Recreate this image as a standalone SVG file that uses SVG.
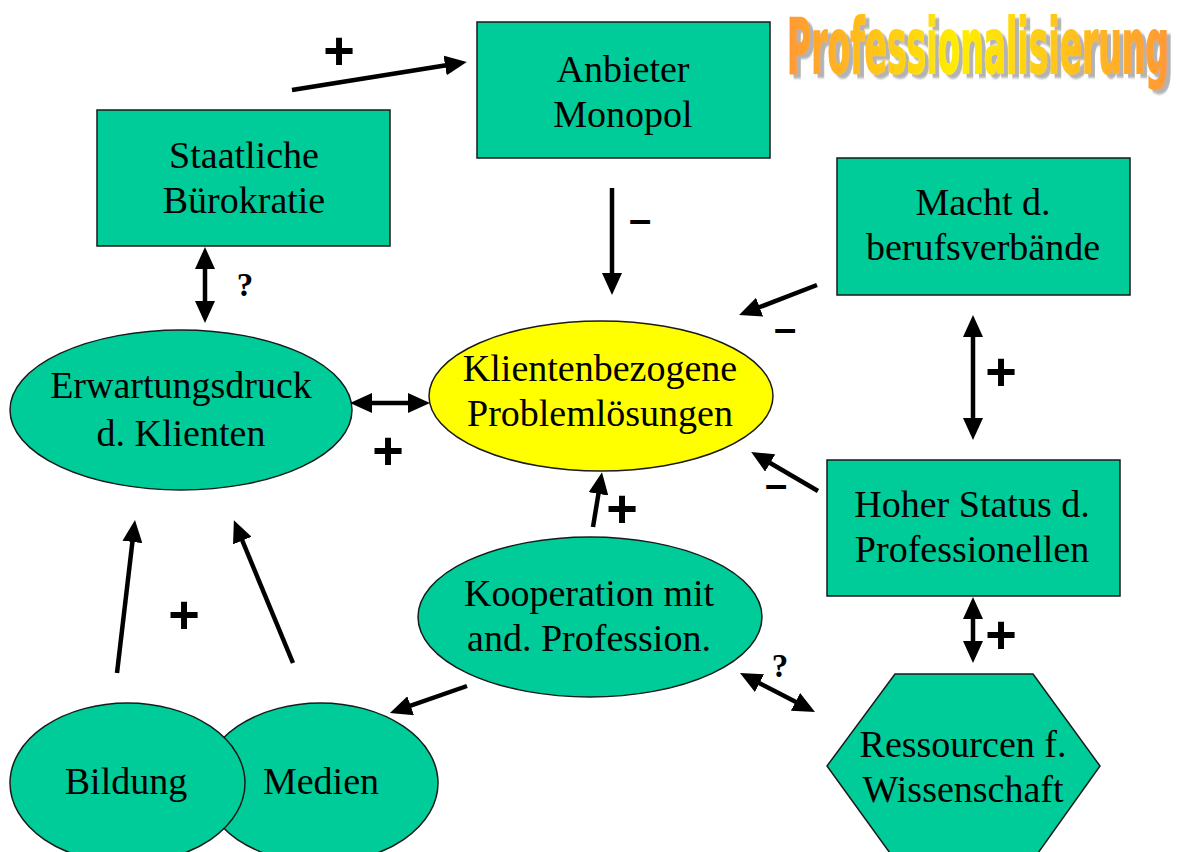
<svg xmlns="http://www.w3.org/2000/svg" width="1181" height="852" viewBox="0 0 1181 852">
<style>
.node{fill:#00cc99;stroke:#1a1a1a;stroke-width:1.5}
.hl{fill:#ffff00;stroke:#1a1a1a;stroke-width:1.5}
.t{font-family:"Liberation Serif","Times New Roman",serif;font-size:38px;fill:#000;text-anchor:middle}
.c{stroke:#000;stroke-width:4.5;fill:none;marker-end:url(#ah)}
.d{stroke:#000;stroke-width:4.5;fill:none;marker-end:url(#ah);marker-start:url(#ah)}
.p{font-family:"Liberation Sans",Arial,sans-serif;font-weight:bold;font-size:54px;fill:#000;text-anchor:middle}
.m{font-family:"Liberation Sans",Arial,sans-serif;font-weight:bold;font-size:40px;fill:#000;text-anchor:middle}
.q{font-family:"Liberation Serif","Times New Roman",serif;font-weight:bold;font-size:33px;fill:#000;text-anchor:middle}
.title{font-family:"Liberation Sans Narrow","DejaVu Sans Condensed","Liberation Sans",sans-serif;font-weight:bold;font-size:35px}
</style>
<defs>
<marker id="ah" viewBox="0 0 22 20" refX="6" refY="10" markerWidth="22" markerHeight="20" markerUnits="userSpaceOnUse" orient="auto-start-reverse">
<path d="M0,0 L22,10 L0,20 z" fill="#000"/>
</marker>
<linearGradient id="tg" gradientUnits="userSpaceOnUse" x1="0" y1="0" x2="382" y2="0">
<stop offset="0" stop-color="#ff9933"/>
<stop offset="0.45" stop-color="#ffee00"/>
<stop offset="1" stop-color="#ff9933"/>
</linearGradient>
<filter id="sh" x="-5%" y="-10%" width="115%" height="130%">
<feDropShadow dx="4" dy="1.8" stdDeviation="0.4" flood-color="#b3b3b3" flood-opacity="1"/>
</filter>
</defs>
<rect width="1181" height="852" fill="#ffffff"/>

<g id="title" transform="translate(787,73) scale(1,2.2)">
<text class="title" x="0" y="0" fill="url(#tg)" stroke="url(#tg)" stroke-width="0.8" textLength="382" lengthAdjust="spacingAndGlyphs" filter="url(#sh)">Professionalisierung</text>
</g>

<g id="anbieter-monopol">
<rect class="node" x="477" y="22" width="293" height="136"/>
<text class="t" x="623" y="82">Anbieter</text>
<text class="t" x="623" y="127">Monopol</text>
</g>

<g id="staatliche-buerokratie">
<rect class="node" x="97" y="110" width="293" height="136"/>
<text class="t" x="244" y="168">Staatliche</text>
<text class="t" x="244" y="213">Bürokratie</text>
</g>

<g id="macht-berufsverbaende">
<rect class="node" x="837" y="158" width="293" height="137"/>
<text class="t" x="983" y="215">Macht d.</text>
<text class="t" x="983" y="260">berufsverbände</text>
</g>

<g id="hoher-status">
<rect class="node" x="827" y="460" width="293" height="136"/>
<text class="t" x="972" y="517">Hoher Status d.</text>
<text class="t" x="972" y="562">Professionellen</text>
</g>

<g id="erwartungsdruck">
<ellipse class="node" cx="181" cy="410" rx="171" ry="80"/>
<text class="t" x="181" y="398">Erwartungsdruck</text>
<text class="t" x="181" y="446">d. Klienten</text>
</g>

<g id="klientenbezogene">
<ellipse class="hl" cx="601" cy="396" rx="172" ry="75"/>
<text class="t" x="600" y="381">Klientenbezogene</text>
<text class="t" x="600" y="426">Problemlösungen</text>
</g>

<g id="kooperation">
<ellipse class="node" cx="590" cy="617" rx="172" ry="80"/>
<text class="t" x="589" y="606">Kooperation mit</text>
<text class="t" x="589" y="651">and. Profession.</text>
</g>

<g id="medien">
<ellipse class="node" cx="320.5" cy="783" rx="117.5" ry="80"/>
<text class="t" x="321" y="794">Medien</text>
</g>

<g id="bildung">
<ellipse class="node" cx="127.5" cy="783" rx="117.5" ry="80"/>
<text class="t" x="126" y="794">Bildung</text>
</g>

<g id="ressourcen">
<polygon class="node" points="895,674 1033,674 1100,766 1033,860 895,860 827,766"/>
<text class="t" x="963" y="757">Ressourcen f.</text>
<text class="t" x="963" y="802">Wissenschaft</text>
</g>

<g id="connectors">
<line class="c" x1="292" y1="90" x2="451" y2="64.5"/>
<line class="c" x1="612" y1="188" x2="612" y2="279"/>
<line class="d" x1="205" y1="263" x2="205" y2="307"/>
<line class="d" x1="366" y1="403" x2="414" y2="403"/>
<line class="c" x1="817" y1="285" x2="754" y2="309.3"/>
<line class="d" x1="973" y1="331" x2="973" y2="424"/>
<line class="c" x1="818" y1="491" x2="765" y2="460"/>
<line class="c" x1="593" y1="527" x2="599.4" y2="488"/>
<line class="d" x1="973" y1="613" x2="973" y2="647"/>
<line class="d" x1="754.2" y1="680.4" x2="800.8" y2="704.6"/>
<line class="c" x1="467" y1="686" x2="405" y2="707.7"/>
<line class="c" x1="117" y1="673" x2="133.1" y2="536"/>
<line class="c" x1="293" y1="663" x2="240" y2="535"/>
</g>

<g id="labels">
<text class="p" x="339" y="69">+</text>
<text class="m" x="640" y="233">–</text>
<text class="q" x="245" y="296">?</text>
<text class="p" x="388" y="469">+</text>
<text class="m" x="785" y="342">–</text>
<text class="p" x="1001" y="390">+</text>
<text class="m" x="776" y="498">–</text>
<text class="p" x="622" y="527">+</text>
<text class="p" x="1001" y="653">+</text>
<text class="q" x="780" y="677">?</text>
<text class="p" x="184" y="633">+</text>
</g>
</svg>
